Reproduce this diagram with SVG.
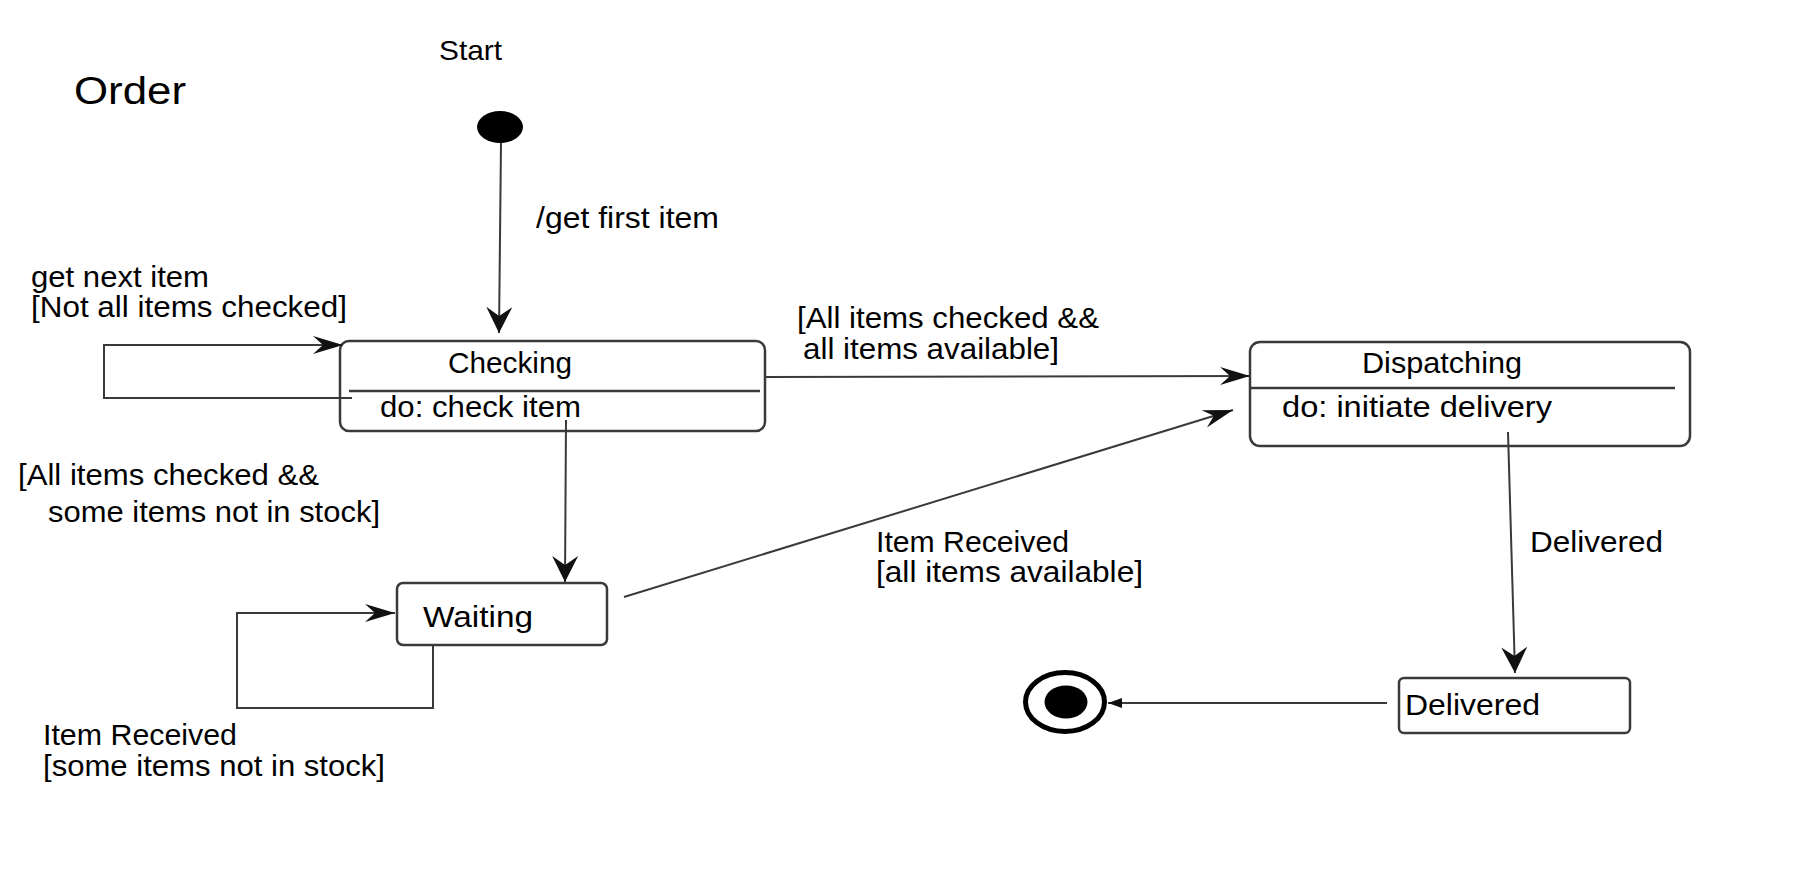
<svg xmlns="http://www.w3.org/2000/svg" width="1793" height="873" viewBox="0 0 1793 873">
<style>
text{font-family:"Liberation Sans",Arial,sans-serif;fill:#000;font-size:30px}
.title{font-size:38px}
.start{font-size:28px}
.box{fill:none;stroke:#3a3a3a;stroke-width:2.5}
.div{stroke:#3a3a3a;stroke-width:2.5}
.edge{fill:none;stroke:#3a3a3a;stroke-width:2}
</style>
<defs>
<marker id="arrowH" viewBox="-30 -10 31 20" refX="0" refY="0" markerWidth="31" markerHeight="20" markerUnits="userSpaceOnUse" orient="auto">
<path d="M0,0 L-30,-9 L-20,0 L-30,9 Z" fill="#111"/>
</marker>
<marker id="arrowV" viewBox="-27 -14 28 28" refX="0" refY="0" markerWidth="28" markerHeight="28" markerUnits="userSpaceOnUse" orient="auto">
<path d="M0,0 L-26,-13 L-17,0 L-26,13 Z" fill="#111"/>
</marker>
<marker id="arrowS" viewBox="-14 -6 15 12" refX="0" refY="0" markerWidth="15" markerHeight="12" markerUnits="userSpaceOnUse" orient="auto">
<path d="M0,0 L-14,-5 L-14,5 Z" fill="#111"/>
</marker>
</defs>
<rect width="1793" height="873" fill="#fff"/>
<text class="title" x="74" y="104" textLength="112" lengthAdjust="spacingAndGlyphs">Order</text>
<g id="start">
<text class="start" x="439" y="60" textLength="63" lengthAdjust="spacingAndGlyphs">Start</text>
<ellipse cx="500" cy="127" rx="23" ry="16" fill="#000"/>
</g>
<g id="checking">
<rect class="box" x="340" y="341" width="425" height="90" rx="9"/>
<line class="div" x1="349" y1="391" x2="760" y2="391"/>
<text x="448" y="373" textLength="124" lengthAdjust="spacingAndGlyphs">Checking</text>
<text x="380" y="417" textLength="201" lengthAdjust="spacingAndGlyphs">do: check item</text>
</g>
<g id="dispatching">
<rect class="box" x="1250" y="342" width="440" height="104" rx="10"/>
<line class="div" x1="1250" y1="388" x2="1675" y2="388"/>
<text x="1362" y="373" textLength="160" lengthAdjust="spacingAndGlyphs">Dispatching</text>
<text x="1282" y="417" textLength="270" lengthAdjust="spacingAndGlyphs">do: initiate delivery</text>
</g>
<g id="waiting">
<rect class="box" x="397" y="583" width="210" height="62" rx="6"/>
<text x="423" y="627" textLength="110" lengthAdjust="spacingAndGlyphs">Waiting</text>
</g>
<g id="delivered">
<rect class="box" x="1399" y="678" width="231" height="55" rx="5"/>
<text x="1405" y="715" textLength="135" lengthAdjust="spacingAndGlyphs">Delivered</text>
</g>
<g id="final">
<ellipse cx="1065" cy="702" rx="39.5" ry="29.5" fill="none" stroke="#000" stroke-width="5"/>
<ellipse cx="1066" cy="702" rx="21.5" ry="16.5" fill="#000"/>
</g>
<g id="connectors">
<line class="edge" x1="501" y1="143" x2="499" y2="333" marker-end="url(#arrowV)"/>
<polyline class="edge" points="352,398 104,398 104,345 343,345" marker-end="url(#arrowH)"/>
<line class="edge" x1="765" y1="377" x2="1250" y2="376" marker-end="url(#arrowH)"/>
<line class="edge" x1="566" y1="420" x2="565" y2="582" marker-end="url(#arrowV)"/>
<polyline class="edge" points="433,645 433,708 237,708 237,613 395,613" marker-end="url(#arrowH)"/>
<line class="edge" x1="624" y1="597" x2="1233" y2="410" marker-end="url(#arrowH)"/>
<line class="edge" x1="1508" y1="432" x2="1515" y2="673" marker-end="url(#arrowV)"/>
<line class="edge" x1="1387" y1="703" x2="1108" y2="703" marker-end="url(#arrowS)"/>
<text x="536" y="228" textLength="183" lengthAdjust="spacingAndGlyphs">/get first item</text>
<text x="31" y="287" textLength="178" lengthAdjust="spacingAndGlyphs">get next item</text>
<text x="31" y="317" textLength="316" lengthAdjust="spacingAndGlyphs">[Not all items checked]</text>
<text x="797" y="328" textLength="302" lengthAdjust="spacingAndGlyphs">[All items checked &amp;&amp;</text>
<text x="803" y="359" textLength="256" lengthAdjust="spacingAndGlyphs">all items available]</text>
<text x="18" y="485" textLength="301" lengthAdjust="spacingAndGlyphs">[All items checked &amp;&amp;</text>
<text x="48" y="522" textLength="332" lengthAdjust="spacingAndGlyphs">some items not in stock]</text>
<text x="876" y="552" textLength="193" lengthAdjust="spacingAndGlyphs">Item Received</text>
<text x="876" y="582" textLength="267" lengthAdjust="spacingAndGlyphs">[all items available]</text>
<text x="1530" y="552" textLength="133" lengthAdjust="spacingAndGlyphs">Delivered</text>
<text x="43" y="745" textLength="194" lengthAdjust="spacingAndGlyphs">Item Received</text>
<text x="43" y="776" textLength="342" lengthAdjust="spacingAndGlyphs">[some items not in stock]</text>
</g>
</svg>
